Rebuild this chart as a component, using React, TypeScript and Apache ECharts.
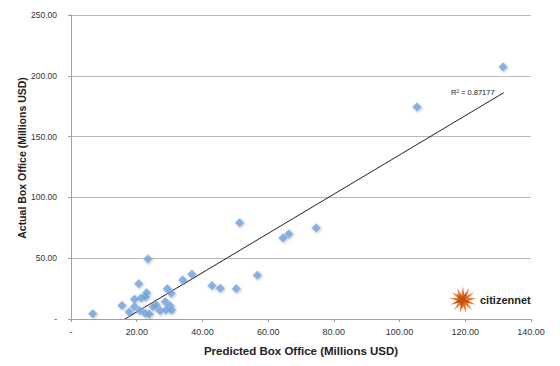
import React, { useEffect, useRef } from "react";
import * as echarts from "echarts";

const predicted = [6.6, 15.5, 17.7, 19.3, 19.3, 20.6, 21.3, 22.6, 23.0, 23.4, 21.0, 22.6, 23.8, 25.0, 25.9, 27.1, 28.7, 29.3, 30.5, 28.9, 30.1, 30.6, 34.0, 36.8, 42.9, 45.4, 50.3, 51.3, 56.7, 64.5, 66.3, 74.6, 105.3, 131.5];
const actual = [4.4, 11.2, 5.8, 16.2, 10.1, 29.0, 17.3, 18.3, 21.6, 49.3, 6.8, 4.7, 4.1, 10.1, 11.5, 6.8, 14.2, 24.9, 21.1, 7.4, 10.9, 7.4, 32.1, 36.8, 27.4, 25.2, 24.9, 79.2, 35.9, 66.6, 69.9, 74.8, 174.3, 207.3];
const trendX = [16.4, 131.7];
const trendY = [0, 186.1];
const rSquared = "R² = 0.87177";
const xTitle = "Predicted Box Office (Millions USD)";
const yTitle = "Actual Box Office (Millions USD)";
const logoText = "citizennet";

function starPoints(cx: number, cy: number, ro: number, ri: number, n: number, rot = 0) {
  const pts: number[][] = [];
  for (let i = 0; i < n * 2; i++) {
    const r = i % 2 === 0 ? ro : ri;
    const a = (Math.PI * i) / n - Math.PI / 2 + rot;
    pts.push([cx + r * Math.cos(a), cy + r * Math.sin(a)]);
  }
  return pts;
}

export default function App() {
  const ref = useRef<HTMLDivElement>(null);
  useEffect(() => {
    if (!ref.current) return;
    const chart = echarts.init(ref.current, null, { renderer: "svg" });
    const fmt = (v: number) => (v === 0 ? "-" : v.toFixed(2));
    const font = "'Liberation Sans', Arial, sans-serif";
    chart.setOption({
      animation: false,
      textStyle: { fontFamily: font },
      grid: { left: 71, right: 29, top: 15, bottom: 47 },
      xAxis: {
        type: "value",
        min: 0,
        max: 140,
        interval: 20,
        name: xTitle,
        nameLocation: "middle",
        nameGap: 26,
        nameTextStyle: { fontSize: 11.5, fontWeight: "bold", color: "#222", fontFamily: font },
        axisLine: { show: true, lineStyle: { color: "#a0a0a0" } },
        axisTick: { show: true, length: 3, lineStyle: { color: "#a0a0a0" } },
        axisLabel: { formatter: fmt, fontSize: 9, color: "#333", margin: 8 },
        splitLine: { show: false },
      },
      yAxis: {
        type: "value",
        min: 0,
        max: 250,
        interval: 50,
        axisLine: { show: true, lineStyle: { color: "#a0a0a0" } },
        axisTick: { show: true, length: 3, lineStyle: { color: "#a0a0a0" } },
        axisLabel: { formatter: fmt, fontSize: 8.5, color: "#333", margin: 14 },
        splitLine: { show: true, lineStyle: { color: "#b8b8b8" } },
      },
      series: [
        {
          type: "scatter",
          data: predicted.map((x, i) => [x, actual[i]]),
          symbol: "diamond",
          symbolSize: 9,
          itemStyle: { color: "#72a2de", borderColor: "#9cc0ec", borderWidth: 0.5, shadowColor: "rgba(0,0,0,0.25)", shadowBlur: 2, shadowOffsetX: 1, shadowOffsetY: 1 },
          z: 3,
        },
        {
          type: "line",
          data: trendX.map((x, i) => [x, trendY[i]]),
          symbol: "none",
          lineStyle: { color: "#222", width: 1 },
          z: 2,
        },
      ],
      graphic: [
        {
          type: "text",
          x: 22,
          y: 158,
          rotation: Math.PI / 2,
          style: { text: yTitle, fontSize: 10.5, fontWeight: "bold", fill: "#222", fontFamily: font, align: "center", verticalAlign: "middle" },
        },
        { type: "text", x: 451, y: 88, style: { text: rSquared, fontSize: 7.5, fill: "#222", fontFamily: font } },
        { type: "polygon", shape: { points: starPoints(463, 300, 13.5, 5.5, 13) }, style: { fill: "#ec6d1f" } },
        { type: "polygon", shape: { points: starPoints(462, 300, 9, 3, 5, 0.6) }, style: { fill: "#9c4018", opacity: 0.6 } },
        { type: "text", x: 480, y: 294, style: { text: logoText, fontSize: 11, fontWeight: "bold", fill: "#222", fontFamily: font } },
      ],
    });
    return () => chart.dispose();
  }, []);
  return <div ref={ref} style={{ position: "fixed", left: 0, top: 0, width: 560, height: 366, background: "#fff" }} />;
}
